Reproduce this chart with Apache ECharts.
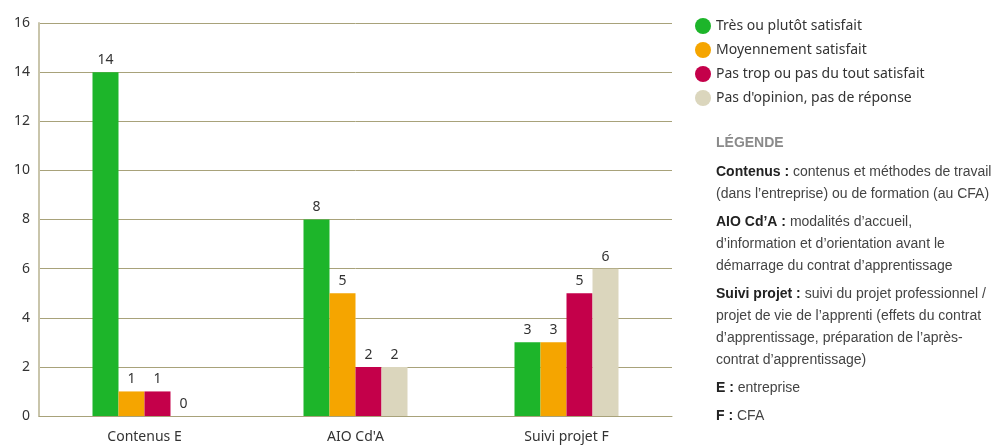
<!DOCTYPE html>
<html>
<head>
<meta charset="utf-8">
<script src="https://cdn.jsdelivr.net/npm/echarts@6/dist/echarts.min.js"></script>
<style>
  html, body { margin: 0; padding: 0; background: #fff; }
  #chart { width: 1003px; height: 445px; }
</style>
</head>
<body>
<div id="chart"></div>
<script>
// Satisfaction counts per topic
const categories = ['Contenus E', "AIO Cd'A", 'Suivi projet F'];
const seriesNames = [
  'Très ou plutôt satisfait',
  'Moyennement satisfait',
  'Pas trop ou pas du tout satisfait',
  "Pas d'opinion, pas de réponse"
];
const tresSatisfait = [14, 8, 3];
const moyennement = [1, 5, 3];
const pasSatisfait = [1, 2, 5];
const sansOpinion = [0, 2, 6];
const colors = ['#1db52a', '#f5a500', '#c4004a', '#dbd6bd'];
const yTicks = [0, 2, 4, 6, 8, 10, 12, 14, 16];

// Glossary lines shown to the right of the chart
const glossary = [
  [{ b: 'Contenus : ', t: 'contenus et méthodes de travail' }, { t: '(dans l’entreprise) ou de formation (au CFA)' }],
  [{ b: 'AIO Cd’A : ', t: 'modalités d’accueil,' }, { t: 'd’information et d’orientation avant le' }, { t: 'démarrage du contrat d’apprentissage' }],
  [{ b: 'Suivi projet : ', t: 'suivi du projet professionnel /' }, { t: 'projet de vie de l’apprenti (effets du contrat' }, { t: 'd’apprentissage, préparation de l’après-' }, { t: 'contrat d’apprentissage)' }],
  [{ b: 'E : ', t: 'entreprise' }],
  [{ b: 'F : ', t: 'CFA' }]
];

const allValues = [tresSatisfait, moyennement, pasSatisfait, sansOpinion];
const FONT = '"Noto Sans", "Open Sans", sans-serif';
const GLOSS_FONT = '"Liberation Sans", Arial, sans-serif';

const chart = echarts.init(document.getElementById('chart'), null, { renderer: 'canvas' });

const series = seriesNames.map((name, i) => ({
  name,
  type: 'bar',
  data: allValues[i],
  barWidth: 26,
  barGap: '0%',
  itemStyle: { color: colors[i] },
  label: {
    show: true,
    position: 'top',
    distance: 5,
    color: '#333',
    fontSize: 14,
    fontFamily: FONT
  }
}));

// Build glossary text graphics
const graphics = [];
graphics.push({
  type: 'text',
  left: 716, top: 136,
  style: { text: 'LÉGENDE', fill: '#8a8a8a', font: 'bold 14px "Liberation Sans", Arial, sans-serif', letterSpacing: -0.4 }
});
let y = 165;
glossary.forEach(block => {
  block.forEach(line => {
    const txt = line.b ? '{b|' + line.b + '}{t|' + line.t + '}' : '{t|' + line.t + '}';
    graphics.push({
      type: 'text',
      left: 716, top: y,
      style: {
        text: txt,
        rich: {
          b: { fontFamily: GLOSS_FONT, fontWeight: 'bold', fontSize: 14, fill: '#222', letterSpacing: -0.5 },
          t: { fontFamily: GLOSS_FONT, fontSize: 14, fill: '#444', letterSpacing: -0.5 }
        }
      }
    });
    y += 22;
  });
  y += 6;
});

chart.setOption({
  animation: false,
  backgroundColor: '#fff',
  grid: { left: 39, right: 331, top: 23, bottom: 29, containLabel: false },
  legend: {
    orient: 'vertical',
    left: 690, top: 13,
    itemWidth: 16, itemHeight: 16, itemGap: 8,
    icon: 'circle',
    textStyle: { fontSize: 14, color: '#333', fontFamily: FONT },
    data: seriesNames
  },
  xAxis: {
    type: 'category',
    data: categories,
    axisLine: { lineStyle: { color: '#a8a27a', width: 1 } },
    axisTick: { show: false },
    axisLabel: { color: '#333', fontSize: 14, fontFamily: FONT, margin: 14 }
  },
  yAxis: {
    type: 'value',
    min: 0, max: 16, interval: 2,
    axisLine: { show: true, lineStyle: { color: '#c9c5ab', width: 2 } },
    axisTick: { show: false },
    axisLabel: {
      color: '#333', fontSize: 14, fontFamily: FONT, margin: 9,
      formatter: v => (yTicks.includes(v) ? String(v) : '')
    },
    splitLine: { lineStyle: { color: '#a8a27a', width: 1 } }
  },
  series,
  graphic: graphics
});
</script>
</body>
</html>
